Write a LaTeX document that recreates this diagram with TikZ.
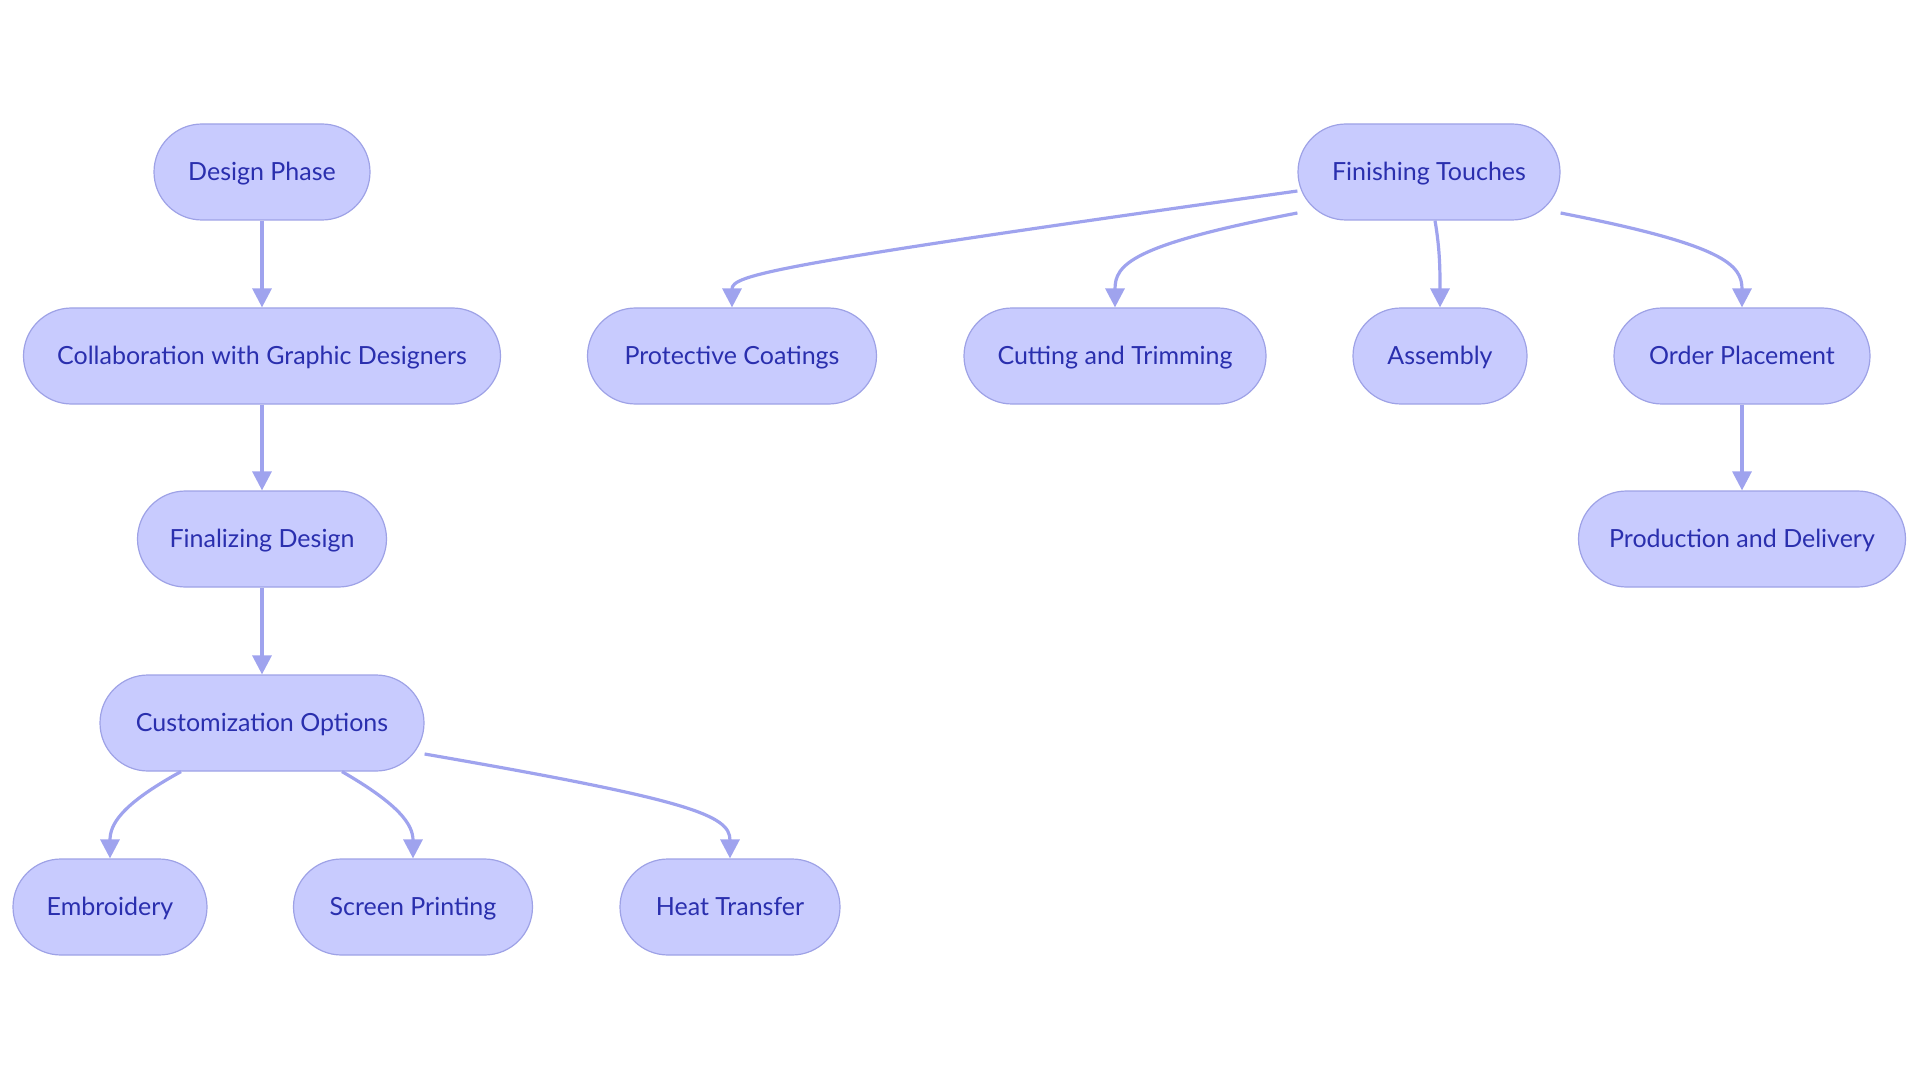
\documentclass[tikz,border=0pt]{standalone}
\usepackage{fontspec}
\setmainfont{Lato}
\usetikzlibrary{arrows.meta}
\definecolor{boxfill}{HTML}{C8CBFE}
\definecolor{boxline}{HTML}{9EA2E6}
\definecolor{boxtext}{HTML}{2A2FAE}
\definecolor{edgecol}{HTML}{9FA3EE}
\begin{document}
\begin{tikzpicture}[x=1pt,y=-1pt,
  stage/.style={draw=boxline,fill=boxfill,line width=1.2pt,rounded corners=48pt,
    minimum height=96pt,inner xsep=0pt,text height=20pt,text depth=3pt,
    text=boxtext,font=\fontsize{25}{30}\selectfont},
  edge/.style={draw=edgecol,line width=3.2pt,-{Triangle[length=19pt,width=19pt]}}]
\useasboundingbox (0,0) rectangle (1920,1083);
% left branch
\node[stage,minimum width=216pt] (dp) at (262,172) {Design Phase};
\node[stage,minimum width=477pt] (cg) at (262,356) {Collaboration with Graphic Designers};
\node[stage,minimum width=249pt] (fd) at (262,539) {Finalizing Design};
\node[stage,minimum width=324pt] (co) at (262,723) {Customization Options};
\node[stage,minimum width=194pt] (emb) at (110,907) {Embroidery};
\node[stage,minimum width=239pt] (sp) at (413,907) {Screen Printing};
\node[stage,minimum width=220pt] (ht) at (730,907) {Heat Transfer};
% right branch
\node[stage,minimum width=262pt] (ft) at (1429,172) {Finishing Touches};
\node[stage,minimum width=289pt] (pc) at (732,356) {Protective Coatings};
\node[stage,minimum width=302pt] (ct) at (1115,356) {Cutting and Trimming};
\node[stage,minimum width=174pt] (as) at (1440,356) {Assembly};
\node[stage,minimum width=256pt] (op) at (1742,356) {Order Placement};
\node[stage,minimum width=327pt] (pd) at (1742,539) {Production and Delivery};
% connectors
\draw[edge] (dp) -- (cg);
\draw[edge] (cg) -- (fd);
\draw[edge] (fd) -- (co);
\draw[edge] ([xshift=-81pt]co.south) .. controls (120,805) and (110,825) .. (emb.north);
\draw[edge] ([xshift=80pt]co.south) .. controls (400,805) and (413,825) .. (sp.north);
\draw[edge] ([yshift=-31pt]co.east) .. controls (690,800) and (730,815) .. (ht.north);
\draw[edge] ([yshift=-19pt]ft.west) .. controls (770,265) and (732,275) .. (pc.north);
\draw[edge] ([yshift=-41pt]ft.west) .. controls (1130,245) and (1115,265) .. (ct.north);
\draw[edge] ([xshift=6pt]ft.south) .. controls (1440,250) and (1440,270) .. (as.north);
\draw[edge] ([yshift=-41pt]ft.east) .. controls (1725,245) and (1742,265) .. (op.north);
\draw[edge] (op) -- (pd);
\end{tikzpicture}
\end{document}
